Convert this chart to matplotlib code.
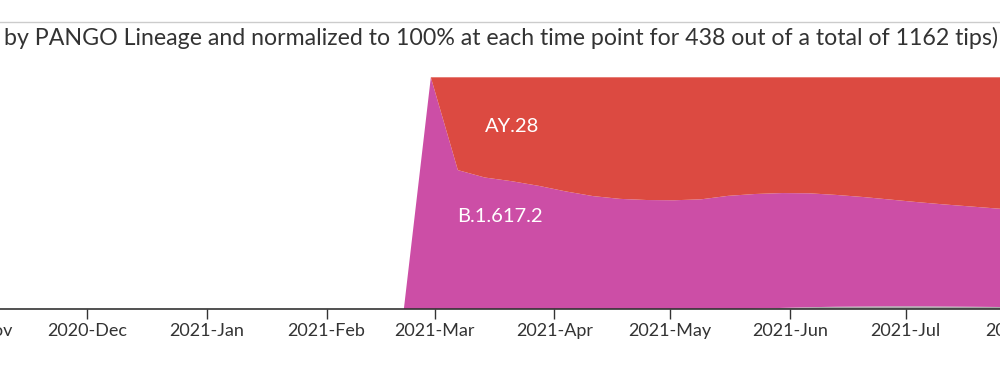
import matplotlib
matplotlib.use("Agg")
import matplotlib.pyplot as plt
import matplotlib.dates as mdates
from matplotlib.lines import Line2D
import numpy as np
import pandas as pd

plt.rcParams['font.family'] = ['Lato', 'DejaVu Sans']

# weekly pivots of the frequency estimate
pivots = pd.date_range('2021-02-21', periods=24, freq='7D')

# share of tips at each pivot (normalized to 1)
other = [0, 0, 0, 0, 0, 0, 0, 0, 0, 0, 0, 0, 0, 0.002, 0.006, 0.009,
         0.011, 0.012, 0.013, 0.013, 0.012, 0.011, 0.010, 0.009]
b_1_617_2 = [0, 1.0, 0.60, 0.568, 0.552, 0.532, 0.508, 0.488, 0.476, 0.471,
             0.470, 0.474, 0.489, 0.495, 0.495, 0.491, 0.482, 0.472, 0.460,
             0.449, 0.440, 0.432, 0.424, 0.417]
ay_28 = [0, 0, 0.40, 0.432, 0.448, 0.468, 0.492, 0.512, 0.524, 0.529,
         0.530, 0.526, 0.511, 0.503, 0.499, 0.500, 0.507, 0.516, 0.527,
         0.538, 0.548, 0.557, 0.566, 0.574]

series_names = ['other', 'B.1.617.2', 'AY.28']
series_colors = ['#A9A9A9', '#CC4EA6', '#DC4A41']

title = ("by PANGO Lineage and normalized to 100% at each time point "
         "for 438 out of a total of 1162 tips)")

W, H = 1000, 365
fig = plt.figure(figsize=(W / 100, H / 100), dpi=100)

# axes run past the figure edges, the view is cropped like the original
px_left, px_right = -60, 1060
px_top, px_bottom = 77.3, 309.3
ax = fig.add_axes([px_left / W, (H - px_bottom) / H,
                   (px_right - px_left) / W, (px_bottom - px_top) / H])

ax.stackplot(pivots, other, b_1_617_2, ay_28, colors=series_colors,
             labels=series_names, linewidth=0)

# x scale: 2021-03-01 sits at pixel 434.7, 3.86 px per day
mar1 = mdates.date2num(pd.Timestamp('2021-03-01'))
ppd = 3.86
ax.set_xlim(mar1 + (px_left - 434.7) / ppd, mar1 + (px_right - 434.7) / ppd)
ax.set_ylim(0, 1)

ax.xaxis.set_major_locator(mdates.MonthLocator())
ax.xaxis.set_major_formatter(mdates.DateFormatter('%Y-%b'))
ax.tick_params(axis='x', length=7, width=1, color='#333333',
               labelcolor='#333333', labelsize=13, pad=3)
ax.set_yticks([])
for s in ['top', 'left', 'right']:
    ax.spines[s].set_visible(False)
ax.spines['bottom'].set_color('#333333')
ax.spines['bottom'].set_linewidth(1.2)

ax.text(pd.Timestamp('2021-03-21'), 0.786, 'AY.28', color='white',
        fontsize=14.5, ha='center', va='center')
ax.text(pd.Timestamp('2021-03-18'), 0.398, 'B.1.617.2', color='white',
        fontsize=14.5, ha='center', va='center')

fig.add_artist(Line2D([0, 1], [(H - 22) / H] * 2, color='#CCCCCC', lw=1))
fig.text(4 / W, (H - 38) / H, title, ha='left', va='center',
         fontsize=16.7, color='#333333')

fig.savefig('out.png', dpi=100)
